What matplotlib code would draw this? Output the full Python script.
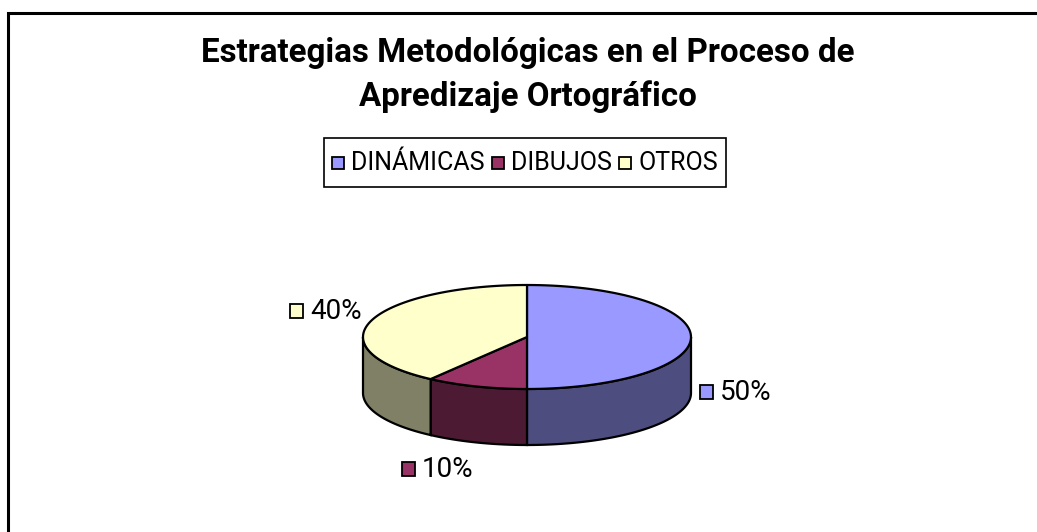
import numpy as np
import matplotlib
matplotlib.use('Agg')
import matplotlib.pyplot as plt
from matplotlib.patches import Rectangle

categories = ['DINÁMICAS', 'DIBUJOS', 'OTROS']
values = [50, 10, 40]
tick_labels = ['50%', '10%', '40%']
top_colors = ['#9999FF', '#993366', '#FFFFCC']
side_colors = ['#4D4D80', '#4D1A33', '#808066']

W, H = 1037, 532
CX, CY, RX, RY, DEPTH = 527, 337, 164, 52, 56
FONT = 'Roboto'
LINE = '#000000'

fig = plt.figure(figsize=(W / 100, H / 100), dpi=100)
ax = fig.add_axes([0, 0, 1, 1])
ax.set_xlim(0, W)
ax.set_ylim(H, 0)
ax.axis('off')


def rim(a0, a1, n=80):
    # angle is clockwise from the top of the ellipse
    a = np.radians(np.linspace(a0, a1, n))
    return CX + RX * np.sin(a), CY - RY * np.cos(a)


# frame, only left and top edges fall inside the picture
ax.plot([7.5, 7.5, W + 5], [H + 5, 12.5, 12.5], color=LINE, lw=2.2, solid_joinstyle='miter')

# title
ax.text(528, 75, 'Estrategias Metodológicas en el Proceso de\nApredizaje Ortográfico',
        ha='center', va='center', fontsize=23.9, fontweight='bold', family=FONT,
        linespacing=1.4, color='black')

# legend
ax.add_patch(Rectangle((324, 138), 402, 49, fc='white', ec=LINE, lw=1.2))
leg_x = [332, 492, 619]
for name, col, x in zip(categories, top_colors, leg_x):
    ax.add_patch(Rectangle((x, 157), 12, 12, fc=col, ec=LINE, lw=1.3))
    ax.text(x + 19, 163, name, ha='left', va='center', fontsize=18, family=FONT)

# pie
bounds = np.cumsum([0] + values) * 3.6
for i in range(len(values)):
    a0, a1 = bounds[i], bounds[i + 1]
    # walls only show on the front half of the ellipse
    s0, s1 = max(a0, 90), min(a1, 270)
    if s1 > s0:
        x, y = rim(s0, s1)
        ax.fill(np.r_[x, x[::-1]], np.r_[y, y[::-1] + DEPTH], fc=side_colors[i], ec=LINE, lw=1.6)
for i in range(len(values)):
    x, y = rim(bounds[i], bounds[i + 1])
    ax.fill(np.r_[CX, x], np.r_[CY, y], fc=top_colors[i], ec=LINE, lw=1.6, joinstyle='round')

# data labels
label_pos = [(700, 385), (402, 462), (290, 304)]
for lab, col, (x, y) in zip(tick_labels, top_colors, label_pos):
    ax.add_patch(Rectangle((x, y), 13, 14, fc=col, ec=LINE, lw=1.3))
    ax.text(x + 20, y + 7.5, lab, ha='left', va='center', fontsize=20, family=FONT)

fig.savefig('out.png', dpi=100, facecolor='white')
